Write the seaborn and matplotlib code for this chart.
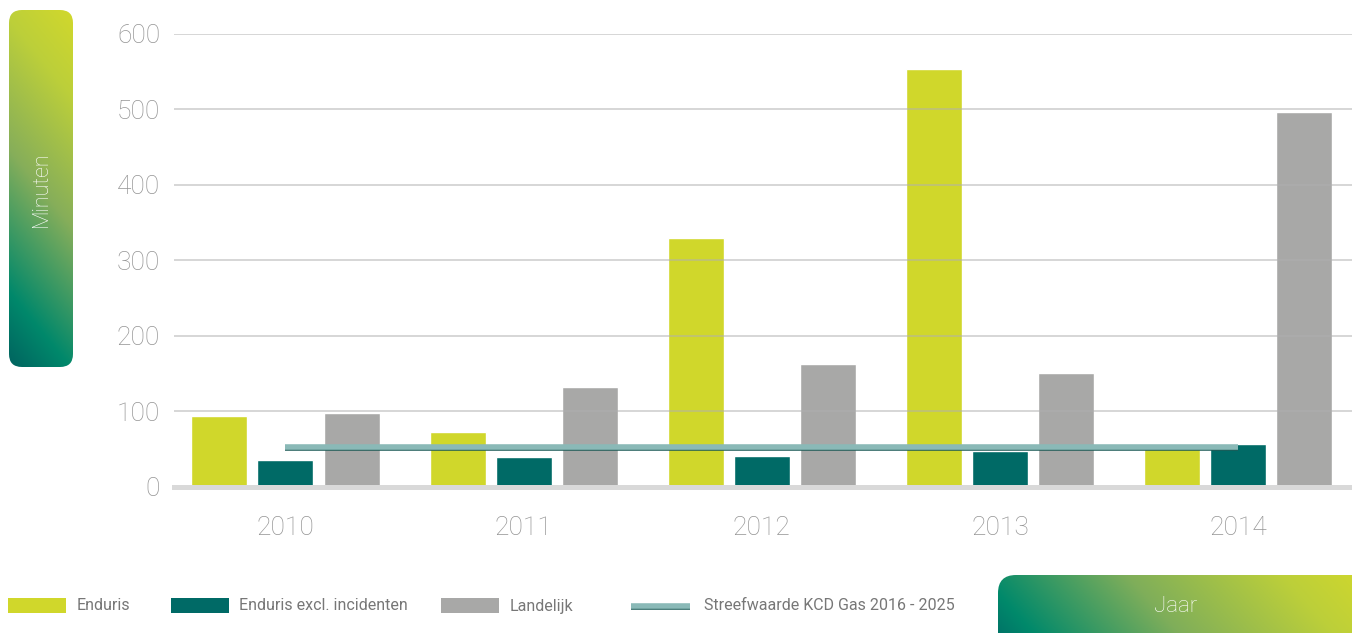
import numpy as np
import pandas as pd
import matplotlib
matplotlib.use("Agg")
import matplotlib.pyplot as plt
import matplotlib.patheffects as pe
from matplotlib.patches import FancyBboxPatch, Rectangle
from matplotlib.colors import LinearSegmentedColormap
import seaborn as sns

# ---- data ----
years = ["2010", "2011", "2012", "2013", "2014"]
enduris = [93, 72, 330, 554, 52]
enduris_excl = [35, 39, 41, 47, 56]
landelijk = [98, 132, 163, 150, 497]
streefwaarde = [53, 53, 53, 53, 53]
series_names = ["Enduris", "Enduris excl. incidenten", "Landelijk"]
legend_line_label = "Streefwaarde KCD Gas 2016 - 2025"
y_ticks = [0, 100, 200, 300, 400, 500, 600]
y_label = "Minuten"
x_label = "Jaar"

colors = ["#d0d72b", "#006a66", "#a8a8a7"]
line_color = "#8ab9b7"
line_shadow = "#1e5b57"
text_gray = "#949494"
legend_gray = "#777777"

sns.set_theme(style="white")
plt.rcParams["font.family"] = ["Roboto", "DejaVu Sans"]

W, H = 1352, 633
fig = plt.figure(figsize=(W / 100, H / 100), dpi=100)

# background overlay axes in pixel coordinates
bg = fig.add_axes([0, 0, 1, 1], zorder=0)
bg.set_xlim(0, W)
bg.set_ylim(H, 0)
bg.axis("off")
bg.set_autoscale_on(False)

df = pd.DataFrame({
    "Jaar": years * 3,
    "Minuten": enduris + enduris_excl + landelijk,
    "Reeks": [series_names[0]] * 5 + [series_names[1]] * 5 + [series_names[2]] * 5,
})

ax = fig.add_axes([174 / W, 1 - 486.5 / H, 1 - 174 / W, (486.5 - 34) / H], zorder=1)
ax.set_facecolor("none")
sns.barplot(data=df, x="Jaar", y="Minuten", hue="Reeks", palette=colors,
            width=0.832, gap=0.152, saturation=1, legend=False, ax=ax)

line_fx = [pe.SimpleLineShadow(offset=(0, -1.0), shadow_color=line_shadow, alpha=1), pe.Normal()]
sns.lineplot(x=np.arange(len(years)), y=streefwaarde, ax=ax, color=line_color,
             lw=4.0, zorder=4, solid_capstyle="butt", path_effects=line_fx)

ax.set_xlim(-0.468, 4.478)
ax.set_ylim(0, 600)
ax.set_yticks(y_ticks)
ax.set_xlabel("")
ax.set_ylabel("")
ax.grid(axis="y", color="#b0b0b0", alpha=0.55, lw=1.3)
ax.grid(axis="x", visible=False)
ax.set_axisbelow(False)
for s in ["top", "right", "left"]:
    ax.spines[s].set_visible(False)
ax.spines["bottom"].set_color("#d9d9d9")
ax.spines["bottom"].set_linewidth(3.6)
ax.spines["bottom"].set_zorder(5)

ax.tick_params(axis="y", length=0, pad=10, labelsize=19, labelcolor=text_gray)
ax.tick_params(axis="x", which="major", length=0, pad=21, labelsize=19, labelcolor=text_gray)
ax.set_xticks([-0.468, 0.5, 1.5, 2.5, 3.5], minor=True)
ax.tick_params(axis="x", which="minor", direction="inout", length=23, width=1, color="#cccccc")
for lbl in ax.get_xticklabels() + ax.get_yticklabels():
    lbl.set_fontweight("light")

# ---- gradient boxes ----
def gradient_box(x0, y0, x1, y1, radius, cmap, direction, text, tx, ty, fontsize, rotation):
    xs = np.linspace(x0, x1, 200)
    ys = np.linspace(y0, y1, 400)
    X, Y = np.meshgrid(xs, ys)
    dx, dy = direction
    P = (X - x0) * dx + (Y - y0) * dy
    T = (P - P.min()) / (P.max() - P.min())
    im = bg.imshow(T, extent=(x0, x1, y1, y0), cmap=cmap, aspect="auto",
                   interpolation="bilinear", zorder=1)
    box = FancyBboxPatch((x0 + radius, y0 + radius), (x1 - x0) - 2 * radius, (y1 - y0) - 2 * radius,
                         boxstyle=f"round,pad={radius}", transform=bg.transData,
                         facecolor="none", edgecolor="none")
    bg.add_patch(box)
    im.set_clip_path(box)
    bg.text(tx, ty, text, color="white", fontsize=fontsize,
            rotation=rotation, ha="center", va="center", fontweight="light", zorder=3)

cmap_v = LinearSegmentedColormap.from_list(
    "v", [(0.0, "#00635f"), (0.17, "#00886b"), (0.5, "#86ae5a"), (0.8, "#bccf3a"), (1.0, "#d1d82c")])
gradient_box(9, 10, 73, 367, 13, cmap_v, (0.55, -0.45), y_label, 41, 189, 15.5, 90)

cmap_h = LinearSegmentedColormap.from_list(
    "h", [(0.0, "#006a66"), (0.12, "#00896b"), (0.45, "#7fae5a"), (0.8, "#bccf3a"), (1.0, "#d1d82c")])
gradient_box(998, 575, 1372, 655, 18, cmap_h, (1.0, -0.9), x_label, 1176, 607, 16, 0)
bg.set_xlim(0, W)
bg.set_ylim(H, 0)

# ---- legend ----
patch_x = [8, 171, 441]
text_x = [77, 239, 510]
for px, tx, c, name in zip(patch_x, text_x, colors, series_names):
    bg.add_patch(Rectangle((px, 598), 58, 15, facecolor=c, edgecolor="none", zorder=2))
    bg.text(tx, 606, name, color=legend_gray, fontsize=11.5, va="center", ha="left", zorder=3)
bg.plot([631, 690], [605.5, 605.5], color=line_color, lw=4.0, solid_capstyle="butt", zorder=2,
        path_effects=line_fx)
bg.text(704, 606, legend_line_label, color=legend_gray, fontsize=11.5, va="center", ha="left", zorder=3)

fig.savefig("out.png", dpi=100)
